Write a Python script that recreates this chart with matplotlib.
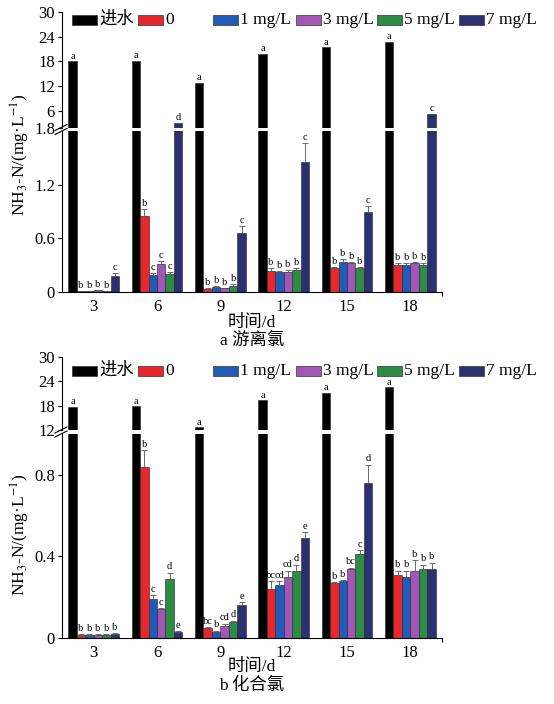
import matplotlib
matplotlib.use("Agg")
import matplotlib.pyplot as plt
from matplotlib.lines import Line2D
from matplotlib.patches import Rectangle
import numpy as np

plt.rcParams["font.family"] = ["Liberation Serif", "Noto Sans CJK SC"]
plt.rcParams["mathtext.fontset"] = "stix"

days = ["3", "6", "9", "12", "15", "18"]
series_names = ["进水", "0", "1 mg/L", "3 mg/L", "5 mg/L", "7 mg/L"]
colors = ["#000000", "#e8262b", "#1f5cb8", "#a256b8", "#2e8b45", "#2c2f72"]

# panel a: free chlorine
inf_a = [18.0, 18.2, 12.8, 19.8, 21.4, 22.7]
c0_a = [0.01, 0.85, 0.03, 0.235, 0.265, 0.30]
c1_a = [0.01, 0.19, 0.06, 0.22, 0.34, 0.30]
c3_a = [0.02, 0.31, 0.04, 0.225, 0.32, 0.32]
c5_a = [0.01, 0.20, 0.07, 0.245, 0.265, 0.30]
c7_a = [0.18, 3.0, 0.66, 1.45, 0.89, 5.3]
err_inf_a = [0, 0, 0, 0, 0, 0]
err0_a = [0.005, 0.08, 0.01, 0.03, 0.02, 0.02]
err1_a = [0.005, 0.02, 0.01, 0.02, 0.03, 0.02]
err3_a = [0.005, 0.04, 0.01, 0.02, 0.02, 0.02]
err5_a = [0.005, 0.02, 0.02, 0.02, 0.02, 0.02]
err7_a = [0.03, 0, 0.08, 0.22, 0.07, 0]
letters_a = [["a", "b", "b", "b", "b", "c"],
             ["a", "b", "c", "c", "c", "d"],
             ["a", "b", "b", "b", "b", "c"],
             ["a", "b", "b", "b", "b", "c"],
             ["a", "b", "b", "b", "b", "c"],
             ["a", "b", "b", "b", "b", "c"]]

# panel b: combined chlorine
inf_b = [17.7, 17.8, 12.7, 19.4, 21.2, 22.5]
c0_b = [0.016, 0.84, 0.05, 0.24, 0.27, 0.31]
c1_b = [0.016, 0.19, 0.028, 0.26, 0.28, 0.30]
c3_b = [0.016, 0.14, 0.06, 0.30, 0.34, 0.33]
c5_b = [0.016, 0.29, 0.08, 0.33, 0.41, 0.34]
c7_b = [0.02, 0.03, 0.16, 0.49, 0.76, 0.34]
err_inf_b = [0, 0, 0, 0, 0, 0]
err0_b = [0.003, 0.08, 0.005, 0.04, 0.005, 0.02]
err1_b = [0.003, 0.02, 0.008, 0.02, 0.005, 0.03]
err3_b = [0.003, 0.005, 0.01, 0.03, 0.005, 0.05]
err5_b = [0.003, 0.03, 0.005, 0.03, 0.02, 0.02]
err7_b = [0.003, 0.005, 0.015, 0.03, 0.09, 0.03]
letters_b = [["a", "b", "b", "b", "b", "b"],
             ["a", "b", "c", "c", "d", "e"],
             ["a", "bc", "b", "cd", "d", "e"],
             ["a", "bc", "cd", "cd", "d", "e"],
             ["a", "b", "b", "bc", "c", "d"],
             ["a", "b", "b", "b", "b", "b"]]

W, H = 554, 704
AX_L, AX_R = 62, 442
BAR_W = 0.134


def fx(px):
    return px / W


def fy(py):
    return 1 - py / H


def draw_bars(ax, vals, errs, letters, ylim):
    x = np.arange(1, 7)
    for k, (v, e) in enumerate(zip(vals, errs)):
        pos = x + (k - 2.5) * BAR_W
        ax.bar(pos, v, width=BAR_W, color=colors[k], edgecolor="#222222", linewidth=0.4, zorder=2)
        e = np.asarray(e)
        v = np.asarray(v)
        show = e > 0
        ax.errorbar(pos[show], v[show], yerr=[np.zeros(show.sum()), e[show]], fmt="none",
                    ecolor="#555555", elinewidth=0.6, capsize=2, capthick=0.6, zorder=3)
        lo, hi = ylim
        span = hi - lo
        for i in range(6):
            top = v[i] + e[i]
            if lo <= top < hi:
                ax.text(pos[i], top + span * 0.006, letters[i][k], ha="center", va="bottom",
                        fontsize=7.5, zorder=4)


def break_marks(y_px):
    x0 = AX_L
    for dy in (-2.0, 2.0):
        fig.add_artist(Line2D([fx(x0 - 7), fx(x0 + 5)], [fy(y_px + dy + 3), fy(y_px + dy - 3)],
                              color="black", lw=0.8))


def panel(vals, errs, letters, upper_px, lower_px, up_lim, low_lim, up_ticks, low_ticks):
    ax_up = fig.add_axes([fx(AX_L), fy(upper_px[1]), fx(AX_R - AX_L), (upper_px[1] - upper_px[0]) / H])
    ax_lo = fig.add_axes([fx(AX_L), fy(lower_px[1]), fx(AX_R - AX_L), (lower_px[1] - lower_px[0]) / H])
    for ax, lim, ticks in ((ax_up, up_lim, up_ticks), (ax_lo, low_lim, low_ticks)):
        draw_bars(ax, vals, errs, letters, lim)
        ax.set_xlim(0.5, 6.5)
        ax.set_ylim(*lim)
        ax.set_yticks(ticks)
        ax.set_yticklabels([f"{t:g}" for t in ticks])
        for s in ("top", "right"):
            ax.spines[s].set_visible(False)
        ax.spines["left"].set_linewidth(0.8)
        ax.spines["bottom"].set_linewidth(0.8)
        ax.tick_params(axis="y", direction="out", length=3, width=0.8, labelsize=12, pad=2)
    ax_up.spines["bottom"].set_visible(False)
    ax_up.set_xticks([])
    ax_lo.set_xticks(np.arange(1, 7))
    ax_lo.set_xticklabels(days)
    ax_lo.set_xticks([6.5], minor=True)
    ax_lo.tick_params(axis="x", which="major", length=0, labelsize=12, pad=5)
    ax_lo.tick_params(axis="x", which="minor", length=3, width=0.8, direction="out")
    break_marks((upper_px[1] + lower_px[0]) / 2)
    return ax_up, ax_lo


def legend_row(y_px):
    patch_x = [72, 138, 213, 296, 377, 459]
    for k, px in enumerate(patch_x):
        fig.add_artist(Rectangle((fx(px), fy(y_px + 5)), fx(25), 10 / H, facecolor=colors[k],
                                 edgecolor="#333333", linewidth=0.5))
        fig.text(fx(px + 27), fy(y_px), series_names[k], ha="left", va="center", fontsize=12.5)


fig = plt.figure(figsize=(W / 100, H / 100), dpi=100)

vals_a = [inf_a, c0_a, c1_a, c3_a, c5_a, c7_a]
errs_a = [err_inf_a, err0_a, err1_a, err3_a, err5_a, err7_a]
panel(vals_a, errs_a, letters_a, (12, 128), (131, 292), (1.8, 30), (0, 1.8),
      [1.8, 6, 12, 18, 24, 30], [0, 0.6, 1.2])
legend_row(20)
fig.text(fx(20), fy(155), r"NH$_3$-N/(mg·L$^{-1}$)", rotation=90, ha="center", va="center", fontsize=12.5)
fig.text(fx(252), fy(323), "时间/d", ha="center", va="center", fontsize=12.5)
fig.text(fx(252), fy(341), "a 游离氯", ha="center", va="center", fontsize=12.5)

vals_b = [inf_b, c0_b, c1_b, c3_b, c5_b, c7_b]
errs_b = [err_inf_b, err0_b, err1_b, err3_b, err5_b, err7_b]
panel(vals_b, errs_b, letters_b, (357, 430), (434, 638), (12, 30), (0, 1.0),
      [12, 18, 24, 30], [0, 0.4, 0.8])
legend_row(371)
fig.text(fx(20), fy(535), r"NH$_3$-N/(mg·L$^{-1}$)", rotation=90, ha="center", va="center", fontsize=12.5)
fig.text(fx(252), fy(667), "时间/d", ha="center", va="center", fontsize=12.5)
fig.text(fx(252), fy(686), "b 化合氯", ha="center", va="center", fontsize=12.5)

fig.savefig("out.png", dpi=100)
